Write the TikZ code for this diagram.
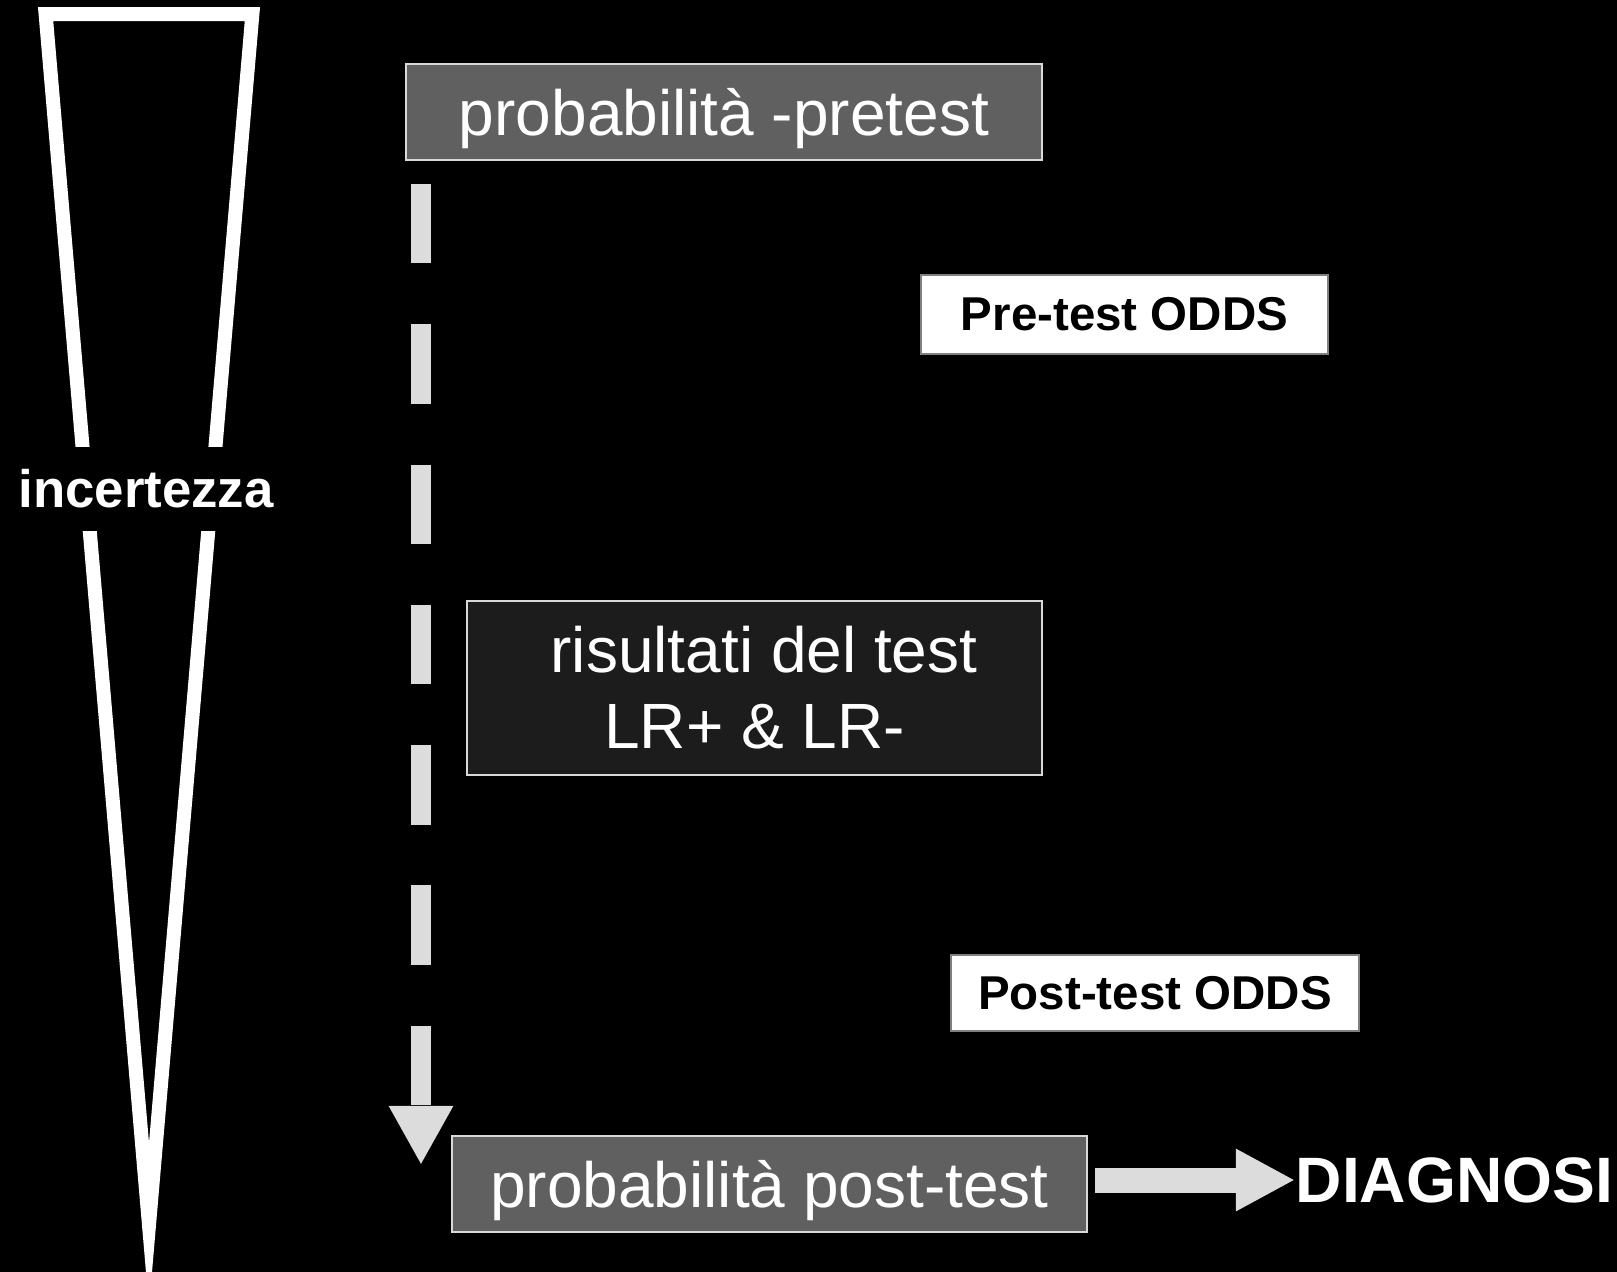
\documentclass[tikz,border=0pt]{standalone}
\usepackage{fontspec}
\setmainfont{Liberation Sans}
\usetikzlibrary{arrows.meta}
\definecolor{boxgray}{HTML}{606060}
\definecolor{boxdark}{HTML}{1C1C1C}
\definecolor{arrowgray}{HTML}{DCDCDC}
\definecolor{edgegray}{HTML}{D8D8D8}
\begin{document}
\begin{tikzpicture}[x=0.01cm, y=-0.01cm,
    testbox/.style={draw=edgegray, line width=0.02cm, fill=boxdark, text=white, inner sep=0pt, align=center, font=\fontsize{18.2}{21.6}\selectfont},
    probbox/.style={testbox, fill=boxgray, text height=0.5cm, text depth=0.04cm},
    oddsbox/.style={draw=gray, line width=0.02cm, fill=white, text=black, inner sep=0pt, font=\fontsize{13.5}{16}\selectfont\bfseries},
    flow/.style={draw=arrowgray, line width=0.2cm, dash pattern=on 0.794cm off 0.608cm, -{Triangle[width=0.6cm, length=0.59cm]}},
    bigarrow/.style={draw=arrowgray, line width=0.25cm, -{Triangle[width=0.58cm, length=0.59cm]}}
]
    \useasboundingbox (0,0) rectangle (1617,1272);
    \fill[black] (0,0) rectangle (1617,1272);

    \draw[white, line width=0.14cm, miter limit=20] (45.6,14) -- (252.4,14) -- (149,1225) -- cycle;
    \node[fill=black, text=white, inner sep=0.02cm, minimum height=0.84cm, font=\fontsize{15}{18}\selectfont\bfseries] (unc) at (146,489) {incertezza};

    \node[probbox, minimum width=6.36cm, minimum height=0.96cm] (pre) at (724,112) {probabilità -pretest};
    \node[oddsbox, minimum width=4.07cm, minimum height=0.79cm] (preodds) at (1124.5,314.5) {Pre-test ODDS};
    \node[testbox, minimum width=5.75cm, minimum height=1.74cm] (test) at (754.5,688) {\hspace*{0.19cm}risultati del test\\LR+ \& LR-};
    \node[oddsbox, minimum width=4.08cm, minimum height=0.76cm] (postodds) at (1155,993) {Post-test ODDS};
    \node[probbox, minimum width=6.35cm, minimum height=0.96cm] (post) at (769.5,1184) {probabilità post-test};
    \node[anchor=west, inner sep=0pt, text=white, font=\fontsize{18.25}{20}\selectfont\bfseries] (diag) at (1295,1180) {DIAGNOSI};

    \coordinate (flowtop) at (421,184);
    \coordinate (flowend) at (421,1165);
    \draw[flow] (flowtop) -- (flowend);
    \draw[bigarrow, shorten <=0.07cm] (diag.west -| post.east) -- (diag.west);
\end{tikzpicture}
\end{document}
